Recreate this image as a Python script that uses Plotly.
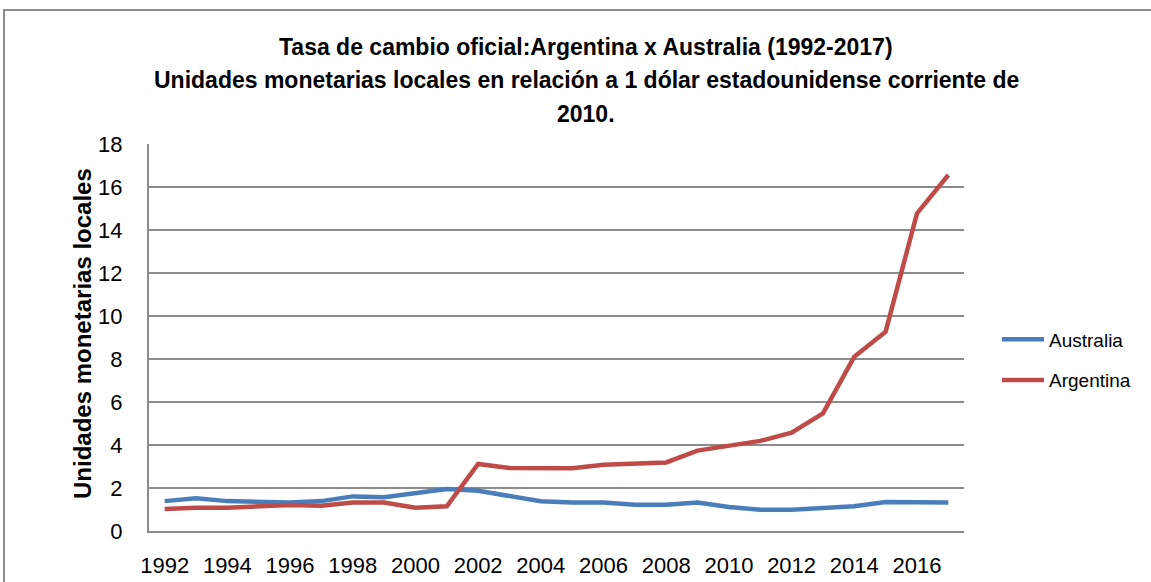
import plotly.graph_objects as go

years = list(range(1992, 2018))
australia = [1.39, 1.52, 1.39, 1.38, 1.32, 1.39, 1.61, 1.57, 1.75, 1.95,
             1.87, 1.60, 1.38, 1.33, 1.33, 1.22, 1.22, 1.33, 1.12, 0.99,
             0.99, 1.07, 1.15, 1.35, 1.35, 1.33]
argentina = [1.02, 1.08, 1.08, 1.15, 1.21, 1.18, 1.32, 1.32, 1.08, 1.15,
             3.12, 2.93, 2.93, 2.92, 3.08, 3.15, 3.19, 3.74, 3.95, 4.19,
             4.57, 5.47, 8.11, 9.27, 14.77, 16.56]
tick_years = list(range(1992, 2017, 2))
y_ticks = list(range(0, 19, 2))
title_lines = ["Tasa de cambio oficial:Argentina x Australia (1992-2017)",
               "Unidades monetarias locales en relación a 1 dólar estadounidense corriente de",
               "2010."]

FONT = "Liberation Sans, Arial, sans-serif"
W, H = 1151, 582
L, R, T, B = 149, 187, 144, 51
pw, ph = W - L - R, H - T - B

fig = go.Figure()
fig.add_trace(go.Scatter(x=years, y=australia, name="Australia", mode="lines",
                         legendgroup="au",
                         line=dict(color="#4A7EBB", width=4.5)))
fig.add_trace(go.Scatter(x=years, y=argentina, name="Argentina", mode="lines",
                         legendgroup="ar",
                         line=dict(color="#BE4B48", width=4.5)))

def px_x(p):
    return (p - L) / pw

def px_y(p):
    return (H - B - p) / ph

annotations = []
for txt, yc in zip(title_lines, [47, 80, 114]):
    annotations.append(dict(text="<b>" + txt + "</b>", x=px_x(586), y=px_y(yc),
                            xref="paper", yref="paper", showarrow=False,
                            xanchor="center", yanchor="middle",
                            font=dict(family=FONT, size=23, color="black")))
annotations.append(dict(text="<b>Unidades monetarias locales</b>", x=px_x(82), y=px_y(334),
                        xref="paper", yref="paper", showarrow=False, textangle=-90,
                        xanchor="center", yanchor="middle",
                        font=dict(family=FONT, size=24, color="black")))

fig.update_layout(
    width=W, height=H,
    margin=dict(l=L, r=R, t=T, b=B, autoexpand=False),
    paper_bgcolor="white", plot_bgcolor="white",
    showlegend=True,
    legend=dict(x=px_x(997), y=px_y(360), xanchor="left", yanchor="middle",
                font=dict(family=FONT, size=19, color="black"),
                bgcolor="rgba(0,0,0,0)", tracegroupgap=13, itemwidth=42),
    annotations=annotations,
    shapes=[dict(type="rect", xref="paper", yref="paper",
                 x0=px_x(4), x1=px_x(1170), y0=px_y(600), y1=px_y(10),
                 line=dict(color="#8C8C8C", width=2), layer="below")],
    xaxis=dict(range=[1991.5, 2017.5], tickmode="array", tickvals=tick_years,
               ticktext=[str(t) for t in tick_years], showgrid=False,
               showline=True, linecolor="#8C8C8C", linewidth=2, ticks="",
               tickfont=dict(family=FONT, size=22, color="black"), ticklabelstandoff=14,
               zeroline=False, automargin=False, fixedrange=True),
    yaxis=dict(range=[0, 18], tickmode="array", tickvals=y_ticks,
               showgrid=True, gridcolor="#8C8C8C", gridwidth=1.5,
               showline=True, linecolor="#8C8C8C", linewidth=2, ticks="",
               tickfont=dict(family=FONT, size=22, color="black"), ticklabelstandoff=20,
               zeroline=False, automargin=False, fixedrange=True),
)
fig.write_html("out.html", config={"displayModeBar": False},
               post_script="document.body.style.margin='0';document.body.style.overflow='hidden';")
